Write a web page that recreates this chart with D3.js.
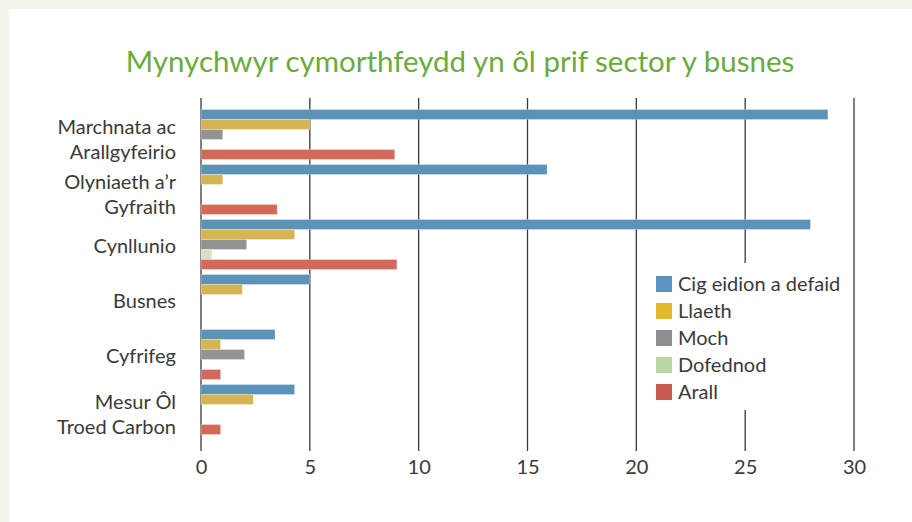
<!DOCTYPE html>
<html>
<head>
<meta charset="utf-8">
<script src="https://cdn.jsdelivr.net/npm/d3@7"></script>
<style>
  html, body { margin: 0; padding: 0; background: #f1f4e9; }
  #chart { width: 912px; height: 522px; }
  text { font-family: Lato, "Open Sans", sans-serif; }
</style>
</head>
<body>
<div id="chart"></div>
<script>
// categories (each label may wrap onto two lines)
const categories = [
  ["Marchnata ac", "Arallgyfeirio"],
  ["Olyniaeth a\u2019r", "Gyfraith"],
  ["Cynllunio"],
  ["Busnes"],
  ["Cyfrifeg"],
  ["Mesur Ôl", "Troed Carbon"]
];
const seriesNames = ["Cig eidion a defaid", "Llaeth", "Moch", "Dofednod", "Arall"];
// values per series, in category order
const cigEidion = [28.8, 15.9, 28.0, 5.0, 3.4, 4.3];
const llaeth    = [5.0, 1.0, 4.3, 1.9, 0.9, 2.4];
const moch      = [1.0, 0, 2.1, 0, 2.0, 0];
const dofednod  = [0, 0, 0.5, 0, 0, 0];
const arall     = [8.9, 3.5, 9.0, 0, 0.9, 0.9];
const xTicks = [0, 5, 10, 15, 20, 25, 30];

const seriesValues = [cigEidion, llaeth, moch, dofednod, arall];
const barColors = ["#5a92b8", "#d6b353", "#939393", "#d4e3c4", "#d2695b"];
const legendColors = ["#5a93bd", "#e4b92a", "#8f8f8f", "#b7d7a5", "#c65a50"];

const width = 912, height = 522;

const svg = d3.select("#chart")
  .append("svg")
  .attr("width", width)
  .attr("height", height);

// white panel
svg.append("rect")
  .attr("x", 9).attr("y", 9)
  .attr("width", width - 9).attr("height", height - 9)
  .attr("fill", "#ffffff");

// title
svg.append("text")
  .attr("x", 460)
  .attr("y", 72)
  .attr("text-anchor", "middle")
  .style("font-size", "29.5px")
  .attr("fill", "#6aab3c")
  .text("Mynychwyr cymorthfeydd yn ôl prif sector y busnes");

// scales
const x = d3.scaleLinear().domain([0, 30]).range([201, 854]);

const y = d3.scaleBand()
  .domain(d3.range(categories.length))
  .range([104, 440])
  .paddingInner(5 / 55)
  .paddingOuter(0.1);

const ySub = d3.scaleBand()
  .domain(d3.range(seriesNames.length))
  .range([0, y.bandwidth()]);

// gridlines
svg.append("g")
  .selectAll("line")
  .data(xTicks)
  .join("line")
  .attr("x1", d => x(d)).attr("x2", d => x(d))
  .attr("y1", 98).attr("y2", 451)
  .attr("stroke", "#3a3a3a")
  .attr("stroke-width", 1.3);

// x axis labels
const xAxis = svg.append("g")
  .attr("transform", "translate(0,451)")
  .call(d3.axisBottom(x).tickValues(xTicks).tickSize(0).tickPadding(9));
xAxis.select(".domain").remove();
xAxis.selectAll("text")
  .style("font-size", "20px")
  .style("font-family", "Lato, 'Open Sans', sans-serif")
  .attr("fill", "#3a3a3a");

// bars
const groups = svg.append("g")
  .selectAll("g")
  .data(categories.map((c, i) => i))
  .join("g")
  .attr("transform", i => `translate(0,${y(i)})`);

groups.selectAll("rect")
  .data(i => seriesValues.map((vals, s) => ({ s, v: vals[i] })).filter(d => d.v > 0))
  .join("rect")
  .attr("x", x(0))
  .attr("y", d => ySub(d.s))
  .attr("width", d => x(d.v) - x(0))
  .attr("height", ySub.bandwidth())
  .attr("fill", d => barColors[d.s])
  .attr("stroke", "#ffffff")
  .attr("stroke-opacity", 0.35)
  .attr("stroke-width", 0.8);

// category labels
const labels = svg.append("g")
  .selectAll("text")
  .data(categories)
  .join("text")
  .attr("text-anchor", "end")
  .attr("fill", "#3a3a3a")
  .style("font-size", "20px")
  .attr("x", 176)
  .attr("y", (d, i) => y(i) + y.bandwidth() / 2 + (d.length > 1 ? 5 : 1));

labels.selectAll("tspan")
  .data(d => d.map((t, k) => ({ t, k, n: d.length })))
  .join("tspan")
  .attr("x", 176)
  .attr("dy", d => d.k === 0 ? (d.n > 1 ? "-0.3em" : "0.35em") : "1.25em")
  .text(d => d.t);

// legend
const legend = svg.append("g");
legend.append("rect")
  .attr("x", 643).attr("y", 263)
  .attr("width", 206).attr("height", 147)
  .attr("fill", "#ffffff");

const items = legend.selectAll("g")
  .data(seriesNames)
  .join("g")
  .attr("transform", (d, i) => `translate(656,${276 + i * 27})`);

items.append("rect")
  .attr("width", 16).attr("height", 16)
  .attr("fill", (d, i) => legendColors[i]);

items.append("text")
  .attr("x", 22).attr("y", 8)
  .attr("dy", "0.35em")
  .attr("fill", "#3a3a3a")
  .style("font-size", "20px")
  .text(d => d);
</script>
</body>
</html>
